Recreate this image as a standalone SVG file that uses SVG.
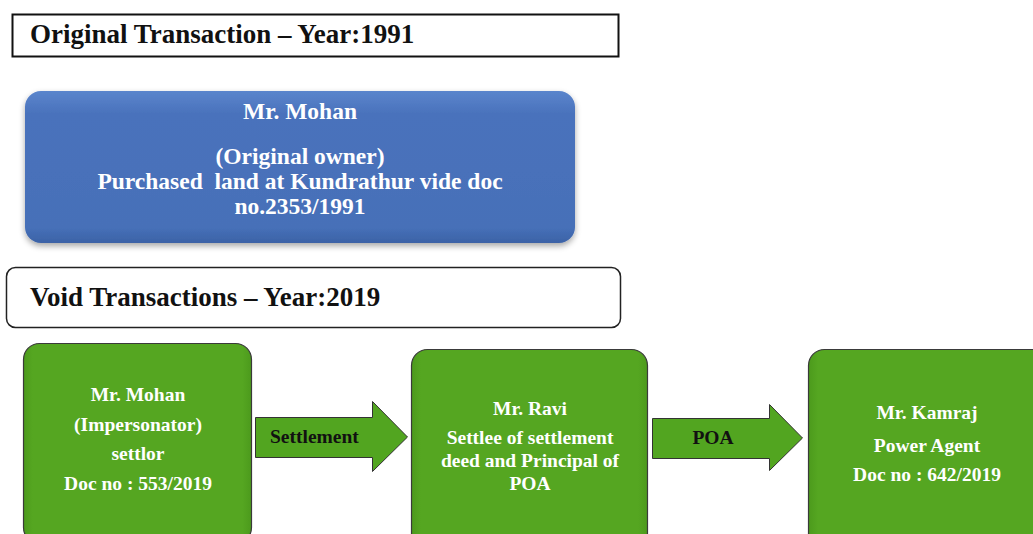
<svg xmlns="http://www.w3.org/2000/svg" width="1033" height="534" viewBox="0 0 1033 534">
<defs>
<style>
.hd{font-family:"Liberation Serif",serif;font-weight:bold;font-size:27px;fill:#111}
.wt{font-family:"Liberation Serif",serif;font-weight:bold;fill:#fff;text-anchor:middle}
.bt{font-family:"Liberation Serif",serif;font-weight:bold;font-size:19.5px;fill:#111}
.gbox{fill:url(#gg);stroke:#3a3a3a;stroke-width:1.2}
.arr{fill:#52a520;stroke:#333;stroke-width:1}
</style>
<linearGradient id="bg" x1="0" y1="0" x2="0" y2="1">
<stop offset="0" stop-color="#5a85cc"/>
<stop offset="0.15" stop-color="#4a72bc"/>
<stop offset="0.9" stop-color="#4670b8"/>
<stop offset="1" stop-color="#3c62a6"/>
</linearGradient>
<linearGradient id="gg" x1="0" y1="0" x2="1" y2="0">
<stop offset="0" stop-color="#4c9a1c"/>
<stop offset="0.04" stop-color="#55a621"/>
<stop offset="0.96" stop-color="#55a621"/>
<stop offset="1" stop-color="#4c9a1c"/>
</linearGradient>
<filter id="sh" x="-5%" y="-10%" width="110%" height="125%">
<feGaussianBlur in="SourceAlpha" stdDeviation="3"/>
<feOffset dx="0" dy="3"/>
<feComponentTransfer><feFuncA type="linear" slope="0.35"/></feComponentTransfer>
<feMerge><feMergeNode/><feMergeNode in="SourceGraphic"/></feMerge>
</filter>
</defs>
<rect width="1033" height="534" fill="#fff"/>

<g id="header-original">
<rect x="12.5" y="14.5" width="606" height="42" fill="#fff" stroke="#111" stroke-width="2"/>
<text class="hd" x="30" y="43">Original Transaction – Year:1991</text>
</g>

<g id="node-original-owner">
<rect x="25" y="91" width="550" height="152" rx="16" fill="url(#bg)" filter="url(#sh)"/>
<text class="wt" font-size="23.5" x="300" y="119">Mr. Mohan</text>
<text class="wt" font-size="23.5" x="300" y="164">(Original owner)</text>
<text class="wt" font-size="23.5" x="300" y="189" xml:space="preserve">Purchased  land at Kundrathur vide doc</text>
<text class="wt" font-size="23.5" x="300" y="214">no.2353/1991</text>
</g>

<g id="header-void">
<rect x="6.5" y="267.5" width="614" height="60" rx="9" fill="#fff" stroke="#222" stroke-width="1.5"/>
<text class="hd" x="30" y="306">Void Transactions – Year:2019</text>
</g>

<g id="node-impersonator">
<rect class="gbox" x="23.5" y="343.5" width="228" height="200" rx="16"/>
<text class="wt" font-size="19.5" x="138" y="401">Mr. Mohan</text>
<text class="wt" font-size="19.5" x="138" y="431">(Impersonator)</text>
<text class="wt" font-size="19.5" x="138" y="460">settlor</text>
<text class="wt" font-size="19.5" x="138" y="490">Doc no : 553/2019</text>
</g>

<g id="node-ravi">
<rect class="gbox" x="411.5" y="349.5" width="236" height="200" rx="16"/>
<text class="wt" font-size="19.5" x="530" y="415">Mr. Ravi</text>
<text class="wt" font-size="19.5" x="530" y="444">Settlee of settlement</text>
<text class="wt" font-size="19.5" x="530" y="467">deed and Principal of</text>
<text class="wt" font-size="19.5" x="530" y="490">POA</text>
</g>

<g id="node-kamraj">
<rect class="gbox" x="808.5" y="349.5" width="240" height="200" rx="16"/>
<text class="wt" font-size="19.5" x="927" y="419">Mr. Kamraj</text>
<text class="wt" font-size="19.5" x="927" y="452">Power Agent</text>
<text class="wt" font-size="19.5" x="927" y="481">Doc no : 642/2019</text>
</g>

<g id="connectors">
<g id="edge-settlement">
<path class="arr" d="M255.5,417.5 H372.5 V401.5 L407.5,437 L372.5,471.5 V457.5 H255.5 Z"/>
<text class="bt" x="270" y="443">Settlement</text>
</g>
<g id="edge-poa">
<path class="arr" d="M652.5,418.5 H769.5 V404.5 L802.5,438 L769.5,470.5 V458.5 H652.5 Z"/>
<text class="bt" x="713" y="444" text-anchor="middle">POA</text>
</g>
</g>
</svg>
